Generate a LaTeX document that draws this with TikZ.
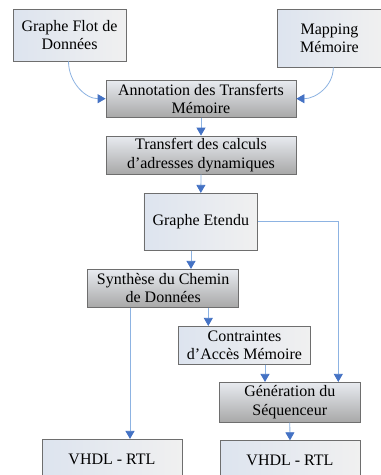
\documentclass[tikz,border=0pt]{standalone}
\usepackage{fontspec}
\setmainfont{Liberation Serif}
\usetikzlibrary{arrows.meta}
\definecolor{lineblue}{HTML}{8DB3E2}
\definecolor{tipblue}{HTML}{4472C4}
\definecolor{edgegray}{HTML}{6E6E6E}
\definecolor{lighta}{HTML}{DDE4EF}
\definecolor{lightb}{HTML}{F0F0F0}
\definecolor{darka}{HTML}{E8EBF0}
\definecolor{darkb}{HTML}{A8A8A8}
\begin{document}
\begin{tikzpicture}[x=1pt,y=-1pt,
  box/.style={draw=edgegray, line width=0.8pt, inner sep=0pt, align=center,
    font=\fontsize{16}{18.4}\selectfont},
  lightbox/.style={box, shading=axis, shading angle=-45, left color=lighta, right color=lightb},
  darkbox/.style={box, top color=darka, bottom color=darkb},
  arr/.style={draw=lineblue, line width=0.8pt, -{Triangle[width=9pt,length=8pt,color=tipblue]}}]
\clip (0,0) rectangle (381,475);
\fill[white] (0,0) rectangle (381,475);
\node[lightbox, minimum width=113pt, minimum height=52pt] (gfd) at (69.5,35) {Graphe Flot de\\Données};
\node[lightbox, minimum width=105pt, minimum height=58pt] (map) at (329.5,38) {Mapping\\Mémoire};
\node[darkbox, minimum width=190pt, minimum height=37pt] (ann) at (201,98.7) {Annotation des Transferts\\Mémoire};
\node[darkbox, minimum width=190pt, minimum height=38pt] (tr) at (201,155) {Transfert des calculs\\d’adresses dynamiques};
\node[lightbox, minimum width=113.7pt, minimum height=57pt] (ge) at (200.8,221.8) {Graphe Etendu};
\node[darkbox, minimum width=151pt, minimum height=38pt] (syn) at (163.2,288.3) {Synthèse du Chemin\\de Données};
\node[lightbox, minimum width=132.4pt, minimum height=38pt] (con) at (244.5,345.3) {Contraintes\\d’Accès Mémoire};
\node[darkbox, minimum width=140.3pt, minimum height=40pt] (gen) at (289.8,402.3) {Génération du\\Séquenceur};
\node[lightbox, minimum width=140pt, minimum height=40pt] (v1) at (112,459.3) {VHDL - RTL};
\node[lightbox, minimum width=140pt, minimum height=40pt] (v2) at (290,460.7) {VHDL - RTL};
\coordinate (xa) at (191,0);
\coordinate (xb) at (338.3,0);
\coordinate (xc) at (130,0);
\coordinate (xd) at (208.3,0);
\coordinate (xe) at (265,0);
\draw[arr] ([xshift=-1pt]gfd.south) to[out=-90,in=180] (ann.west);
\draw[arr] ([xshift=3.8pt]map.south) to[out=-90,in=0] (ann.east);
\draw[arr] (ann.south) -- (tr.north);
\draw[arr] (tr.south) -- (ge.north);
\draw[arr] (ge.south -| xa) -- (syn.north -| xa);
\draw[arr] (ge.east) -| (gen.north -| xb);
\draw[arr] (syn.south -| xc) -- (v1.north -| xc);
\draw[arr] (syn.south -| xd) -- (con.north -| xd);
\draw[arr] (con.south -| xe) -- (gen.north -| xe);
\draw[arr] (gen.south) -- (v2.north);
\end{tikzpicture}
\end{document}
